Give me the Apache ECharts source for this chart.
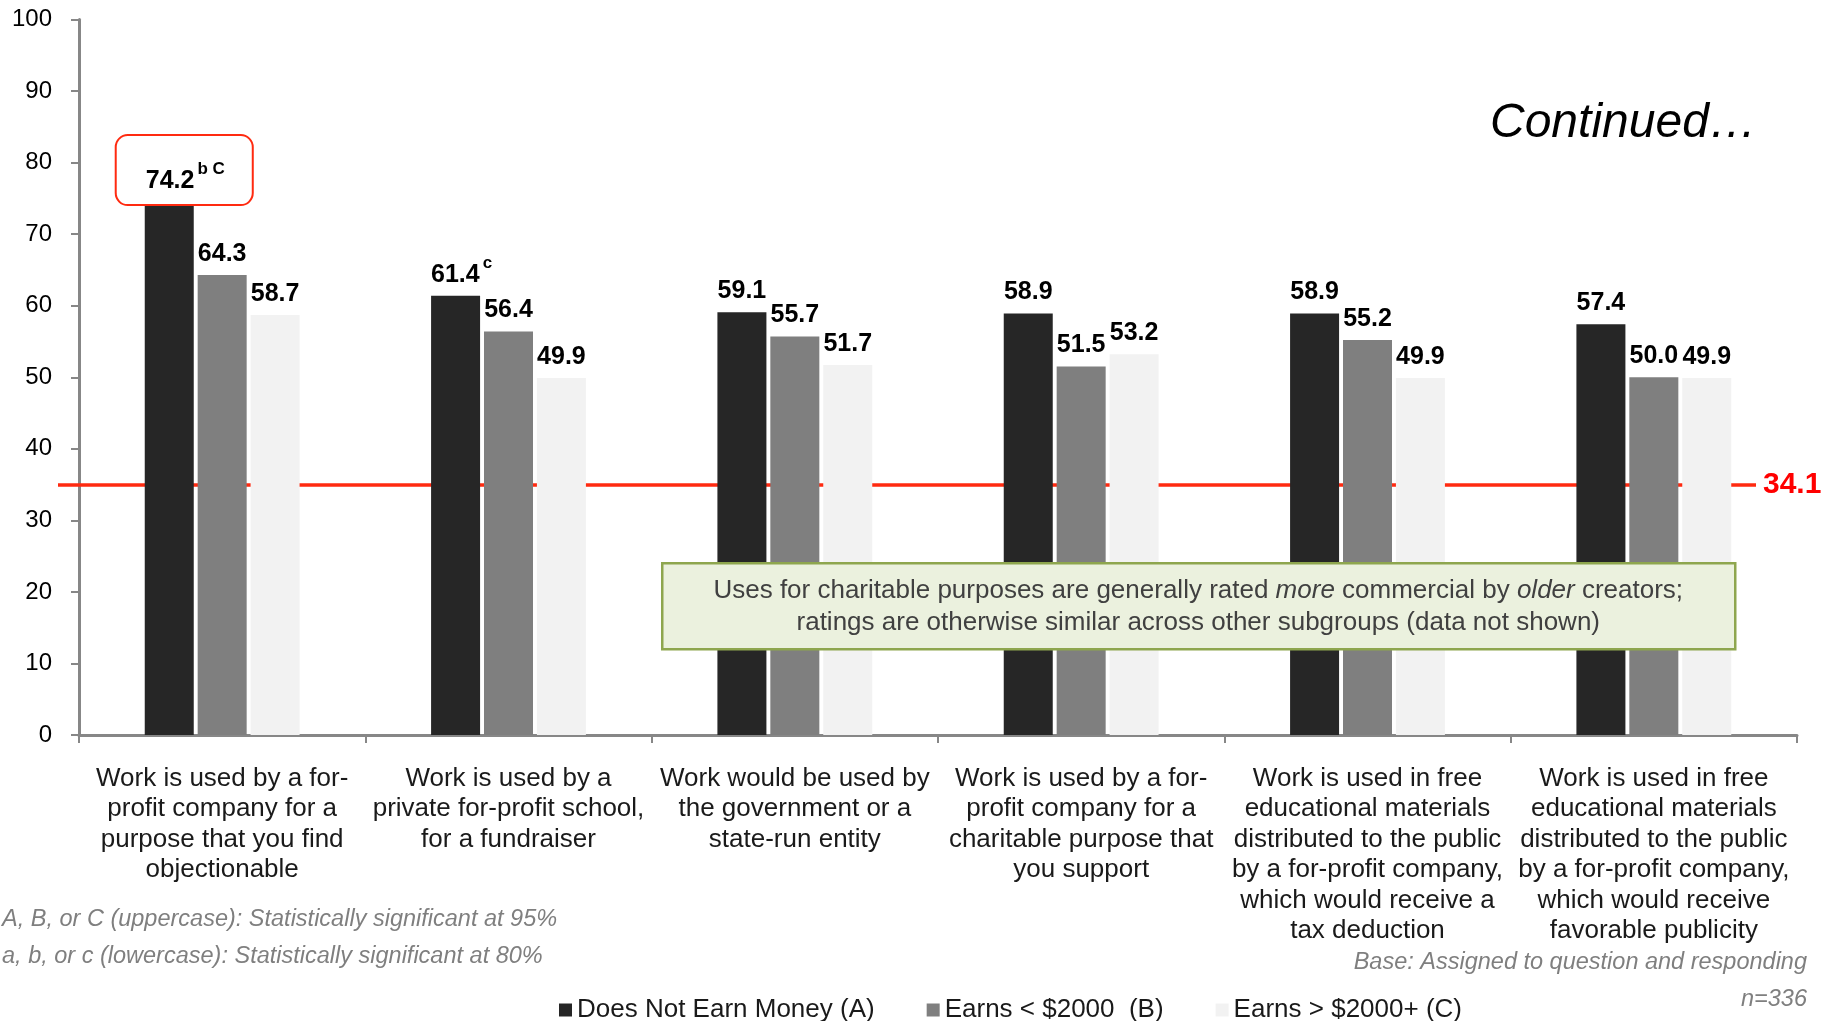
<!DOCTYPE html>
<html>
<head>
<meta charset="utf-8">
<script src="https://cdn.jsdelivr.net/npm/echarts@6/dist/echarts.min.js"></script>
<style>
  html, body { margin: 0; padding: 0; background: #fff; }
  #chart { width: 1824px; height: 1021px; }
</style>
</head>
<body>
<div id="chart"></div>
<script>
// ---------- data ----------
const categories = [
  'Work is used by a for-\nprofit company for a\npurpose that you find\nobjectionable',
  'Work is used by a\nprivate for-profit school,\nfor a fundraiser',
  'Work would be used by\nthe government or a\nstate-run entity',
  'Work is used by a for-\nprofit company for a\ncharitable purpose that\nyou support',
  'Work is used in free\neducational materials\ndistributed to the public\nby a for-profit company,\nwhich would receive a\ntax deduction',
  'Work is used in free\neducational materials\ndistributed to the public\nby a for-profit company,\nwhich would receive\nfavorable publicity'
];
const seriesNames = ['Does Not Earn Money (A)', 'Earns < $2000  (B)', 'Earns > $2000+ (C)'];
const valuesA = [74.2, 61.4, 59.1, 58.9, 58.9, 57.4];
const valuesB = [64.3, 56.4, 55.7, 51.5, 55.2, 50.0];
const valuesC = [58.7, 49.9, 51.7, 53.2, 49.9, 49.9];
const sigA = ['b C', 'c', '', '', '', ''];
const sigB = ['', '', '', '', '', ''];
const sigC = ['', '', '', '', '', ''];
const boxedA = [true, false, false, false, false, false];
const referenceValue = 34.1;      // label of the reference line
const referenceLineLevel = 35.0;  // level at which the line is drawn in the picture
const yMin = 0, yMax = 100, yInterval = 10;

// ---------- styles ----------
const colors = ['#262626', '#7f7f7f', '#f2f2f2'];
const sans = '"Liberation Sans", Arial, sans-serif';

const richStyles = {
  v: { fontFamily: sans, fontSize: 25, fontWeight: 'bold', color: '#000', lineHeight: 28, padding: [12, 0, 0, 0] },
  s: { fontFamily: sans, fontSize: 17, fontWeight: 'bold', color: '#000', lineHeight: 18, verticalAlign: 'top', padding: [0, 0, 0, 3] }
};

function buildData(values, sigs, boxed) {
  return values.map((v, i) => {
    const item = { value: v };
    if (sigs[i]) {
      item.label = { offset: [sigs[i].length > 1 ? 15 : 6, 0] };
    }
    if (boxed && boxed[i]) {
      item.label = Object.assign(item.label || {}, {
        backgroundColor: '#fff',
        borderColor: '#ff2a10',
        borderWidth: 2,
        borderRadius: 11,
        padding: [25, 27, 15, 29],
        distance: 0
      });
    }
    return item;
  });
}

function makeSeries(name, values, sigs, color, boxed) {
  return {
    name: name,
    type: 'bar',
    z: 2,
    barWidth: 49,
    barGap: '8%',
    itemStyle: { color: color },
    label: {
      show: true,
      position: 'top',
      distance: 13,
      formatter: (p) => '{v|' + p.value.toFixed(1) + '}' + (sigs[p.dataIndex] ? '{s|' + sigs[p.dataIndex] + '}' : ''),
      rich: richStyles
    },
    data: buildData(values, sigs, boxed)
  };
}

const chart = echarts.init(document.getElementById('chart'), null, { renderer: 'canvas' });

const option = {
  animation: false,
  backgroundColor: '#fff',
  grid: { left: 79, right: 27, top: 19.5, bottom: 286, containLabel: false },
  legend: {
    data: seriesNames,
    left: 554,
    top: 992,
    icon: 'rect',
    itemWidth: 13,
    itemHeight: 13,
    itemGap: 52,
    textStyle: { fontFamily: sans, fontSize: 26, color: '#1a1a1a' }
  },
  xAxis: {
    type: 'category',
    data: categories,
    axisLine: { lineStyle: { color: '#878787', width: 3 } },
    axisTick: { show: true, length: 8, lineStyle: { color: '#878787', width: 2 } },
    axisLabel: { interval: 0, margin: 28.5, fontFamily: sans, fontSize: 26, lineHeight: 30.5, color: '#1a1a1a', align: 'center' }
  },
  yAxis: {
    type: 'value',
    min: yMin,
    max: yMax,
    interval: yInterval,
    splitLine: { show: false },
    axisLine: { show: true, lineStyle: { color: '#878787', width: 3 } },
    axisTick: { show: true, length: 8, lineStyle: { color: '#878787', width: 2 } },
    axisLabel: { margin: 27, fontFamily: sans, fontSize: 24, color: '#000' }
  },
  series: [
    makeSeries(seriesNames[0], valuesA, sigA, colors[0], boxedA),
    makeSeries(seriesNames[1], valuesB, sigB, colors[1], null),
    makeSeries(seriesNames[2], valuesC, sigC, colors[2], null),
    {
      name: 'reference',
      type: 'line',
      data: [],
      z: 1,
      silent: true,
      markLine: {
        silent: true,
        z: 1,
        symbol: 'none',
        lineStyle: { color: '#ff2a10', width: 3.5, type: 'solid' },
        label: {
          show: true,
          position: 'end',
          distance: 7,
          formatter: () => referenceValue.toFixed(1),
          fontFamily: sans,
          fontSize: 30,
          fontWeight: 'bold',
          color: '#ff0000'
        },
        data: [[{ x: 58, yAxis: referenceLineLevel }, { x: 1756, yAxis: referenceLineLevel }]]
      }
    }
  ],
  graphic: [
    {
      type: 'text', left: 1490, top: 100, z: 10,
      style: { text: 'Continued…', font: 'italic 48px ' + sans, fill: '#000' }
    },
    {
      type: 'text', left: 2, top: 908, z: 10,
      style: { text: 'A, B, or C (uppercase): Statistically significant at 95%', font: 'italic 23.5px ' + sans, fill: '#7f7f7f' }
    },
    {
      type: 'text', left: 2, top: 945, z: 10,
      style: { text: 'a, b, or c (lowercase): Statistically significant at 80%', font: 'italic 23.5px ' + sans, fill: '#7f7f7f' }
    },
    {
      type: 'text', right: 17, top: 951, z: 10,
      style: { text: 'Base: Assigned to question and responding', font: 'italic 23.5px ' + sans, fill: '#7f7f7f' }
    },
    {
      type: 'text', right: 17, top: 988, z: 10,
      style: { text: 'n=336', font: 'italic 23.5px ' + sans, fill: '#7f7f7f' }
    },
    {
      type: 'group', left: 661, top: 562, z: 10,
      children: [
        {
          type: 'rect', z: 10,
          shape: { x: 0, y: 0, width: 1073, height: 86 },
          style: { fill: '#ebf1de', stroke: '#8ea64e', lineWidth: 2.5 }
        },
        {
          type: 'text', z: 11,
          x: 536, y: 44,
          style: {
            text: '{n|Uses for charitable purposes are generally rated }{i|more}{n| commercial by }{i|older}{n| creators;}\n{n|ratings are otherwise similar across other subgroups (data not shown)}',
            align: 'center',
            verticalAlign: 'middle',
            rich: {
              n: { fontFamily: sans, fontSize: 26, fill: '#404040', lineHeight: 32 },
              i: { fontFamily: sans, fontSize: 26, fontStyle: 'italic', fill: '#404040', lineHeight: 32 }
            }
          }
        }
      ]
    }
  ]
};

chart.setOption(option);
</script>
</body>
</html>
